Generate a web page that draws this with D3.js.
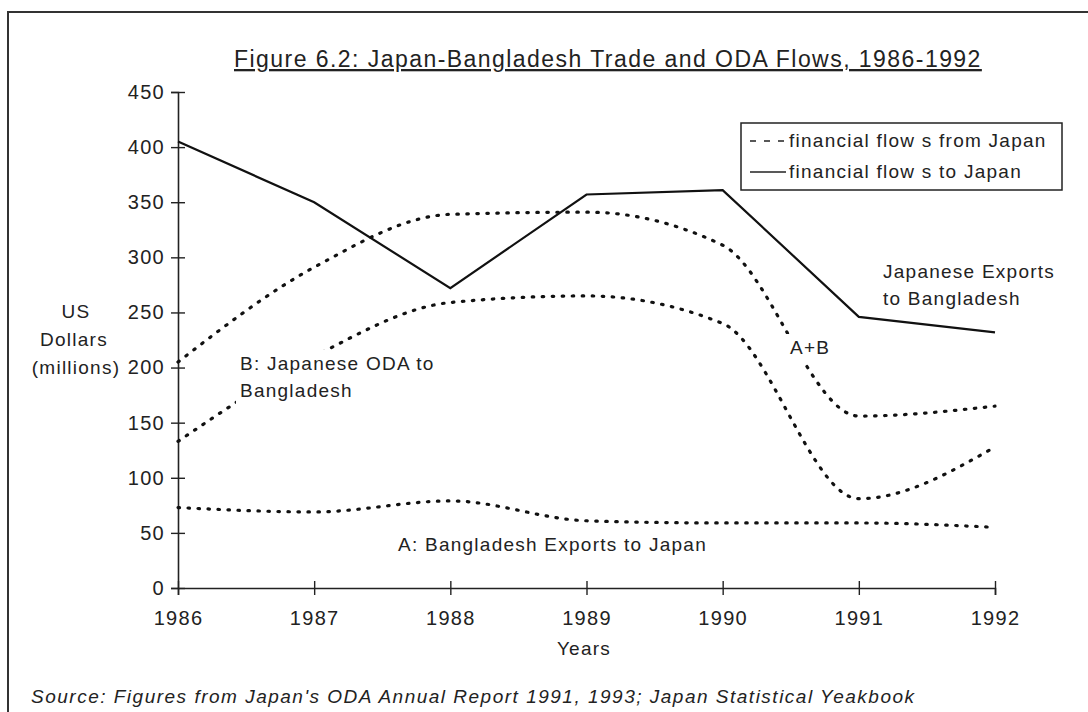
<!DOCTYPE html>
<html>
<head>
<meta charset="utf-8">
<script src="https://cdn.jsdelivr.net/npm/d3@7"></script>
<style>
  body { margin: 0; background: #fff; }
  text { font-family: "Liberation Sans", Arial, sans-serif; fill: #222; font-size: 19px; letter-spacing: 1.25px; }
</style>
</head>
<body>
<svg id="chart" width="1088" height="712"></svg>
<script>
// years on the x axis
var years = [1986, 1987, 1988, 1989, 1990, 1991, 1992]

// US$ millions
var exportsToBangladesh = [405, 350, 272, 357, 361, 246, 232]   // solid line
var aPlusB = [205, 291, 339, 341, 311, 156, 165]                // A+B
var odaB = [133, 210, 259, 265, 240, 81, 128]                   // B: Japanese ODA
var exportsToJapanA = [73, 69, 79, 61, 59, 59, 55]              // A

var yTicks = [0, 50, 100, 150, 200, 250, 300, 350, 400, 450]

var svg = d3.select("#chart")

// page frame (top and left edge only)
svg.append("path")
  .attr("d", "M8,720 L8,12 L1088,12")
  .attr("fill", "none")
  .attr("stroke", "#333")
  .attr("stroke-width", 2)

var x = d3.scalePoint().domain(years).range([178, 995])
var y = d3.scaleLinear().domain([0, 450]).range([588, 92])

// title
svg.append("text")
  .attr("x", 234).attr("y", 67)
  .style("font-size", "23px")
  .style("letter-spacing", "1.45px")
  .style("text-decoration", "underline")
  .text("Figure 6.2: Japan-Bangladesh Trade and ODA Flows, 1986-1992")

// axes
var yAxis = svg.append("g")
  .attr("transform", "translate(" + x(1986) + ",0)")
  .call(d3.axisLeft(y).tickValues(yTicks).tickSize(7).tickPadding(6))
yAxis.selectAll(".tick line").attr("x1", 7)

var xAxis = svg.append("g")
  .attr("transform", "translate(0," + y(0) + ")")
  .call(d3.axisBottom(x).tickSize(7).tickPadding(16))
xAxis.selectAll(".tick line").attr("y1", -7)

svg.selectAll(".domain").attr("stroke", "#222").attr("stroke-width", 1.6)
svg.selectAll(".tick line").attr("stroke", "#222").attr("stroke-width", 1.4)
svg.selectAll(".tick text")
  .attr("fill", "#222")
  .style("font-size", "20px")
  .style("letter-spacing", "1.3px")
  .style("font-family", "'Liberation Sans', Arial, sans-serif")

// axis titles
svg.append("text")
  .attr("x", 584).attr("y", 655)
  .attr("text-anchor", "middle")
  .text("Years")

var yTitle = svg.append("text")
  .attr("text-anchor", "middle")
yTitle.selectAll("tspan")
  .data(["US", "Dollars", "(millions)"])
  .enter()
  .append("tspan")
    .attr("x", function(d, i){ return i == 1 ? 74 : 76 })
    .attr("y", function(d, i){ return 318 + i*28 })
    .text(function(d){ return d })

// lines
var smooth = d3.line()
  .x(function(d, i){ return x(years[i]) })
  .y(function(d){ return y(d) })
  .curve(d3.curveMonotoneX)

var straight = d3.line()
  .x(function(d, i){ return x(years[i]) })
  .y(function(d){ return y(d) })

svg.append("path")
  .datum(exportsToBangladesh)
  .attr("d", straight)
  .attr("fill", "none")
  .attr("stroke", "#111")
  .attr("stroke-width", 2.2)

svg.selectAll("dotline")
  .data([aPlusB, odaB, exportsToJapanA])
  .enter()
  .append("path")
    .attr("d", smooth)
    .attr("fill", "none")
    .attr("stroke", "#111")
    .attr("stroke-width", 3.2)
    .attr("stroke-linecap", "round")
    .attr("stroke-dasharray", "1.5 8.5")

// text labels on white boxes
var labels = [
  { x: 240, y: 370, lines: ["B: Japanese ODA to", "Bangladesh"] },
  { x: 790, y: 354, lines: ["A+B"] },
  { x: 883, y: 278, lines: ["Japanese Exports", "to Bangladesh"] },
  { x: 398, y: 551, lines: ["A: Bangladesh Exports to Japan"] }
]

labels.forEach(function(l){
  var g = svg.append("g")
  var t = g.append("text")
  t.selectAll("tspan")
    .data(l.lines)
    .enter()
    .append("tspan")
      .attr("x", l.x)
      .attr("y", function(d, i){ return l.y + i*27 })
      .text(function(d){ return d })
  var b = t.node().getBBox()
  g.insert("rect", "text")
    .attr("x", b.x - 4).attr("y", b.y - 3)
    .attr("width", b.width + 8).attr("height", b.height + 6)
    .attr("fill", "#fff")
})

// legend
var legend = svg.append("g")
legend.append("rect")
  .attr("x", 741).attr("y", 123)
  .attr("width", 321).attr("height", 67)
  .attr("fill", "#fff")
  .attr("stroke", "#222")
  .attr("stroke-width", 1.5)

var legendKeys = ["financial flow s from Japan", "financial flow s to Japan"]
var legendDash = ["6 8", null]

legend.selectAll("legendline")
  .data(legendKeys)
  .enter()
  .append("line")
    .attr("x1", 750)
    .attr("x2", 786)
    .attr("y1", function(d, i){ return 141 + i*31 })
    .attr("y2", function(d, i){ return 141 + i*31 })
    .attr("stroke", "#222")
    .attr("stroke-width", 1.6)
    .attr("stroke-dasharray", function(d, i){ return legendDash[i] })

legend.selectAll("legendlabel")
  .data(legendKeys)
  .enter()
  .append("text")
    .attr("x", 789)
    .attr("y", function(d, i){ return 147 + i*31 })
    .text(function(d){ return d })

// source note
svg.append("text")
  .attr("x", 31).attr("y", 703)
  .style("font-style", "italic")
  .style("letter-spacing", "1.5px")
  .text("Source: Figures from Japan's ODA Annual Report 1991, 1993; Japan Statistical Yeakbook")
</script>
</body>
</html>
